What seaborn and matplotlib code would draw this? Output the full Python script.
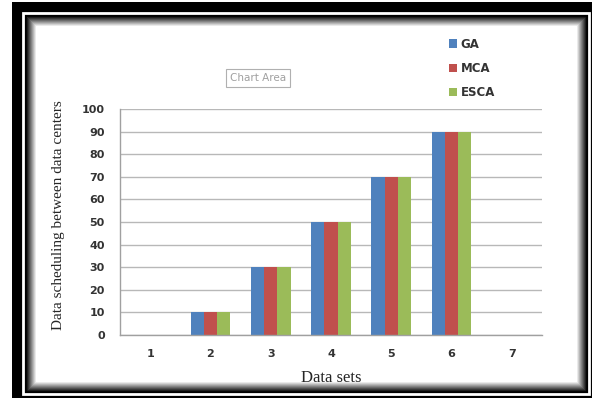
import pandas as pd
import matplotlib.pyplot as plt
import seaborn as sns
from matplotlib.patches import Rectangle

# data
datasets = ['1', '2', '3', '4', '5', '6', '7']
ga = [0, 10, 30, 50, 70, 90, 0]
mca = [0, 10, 30, 50, 70, 90, 0]
esca = [0, 10, 30, 50, 70, 90, 0]
methods = ['GA', 'MCA', 'ESCA']
colors = ['#4F81BD', '#C0504D', '#9BBB59']

df = pd.DataFrame({
    'Data sets': datasets * 3,
    'Method': [m for m in methods for _ in datasets],
    'Value': ga + mca + esca,
})

sns.set_style('white')
W, H = 602, 407
fig = plt.figure(figsize=(W / 100, H / 100), dpi=100)

def px(x0, y0, x1, y1):
    # pixel box (top-left origin) -> figure fraction rect
    return (x0 / W, 1 - y1 / H, (x1 - x0) / W, (y1 - y0) / H)

def frame(box, **kw):
    x, y, w, h = px(*box)
    fig.patches.append(Rectangle((x, y), w, h, transform=fig.transFigure, **kw))

# picture frame: black border, white line, shadowed inner panel
frame((12, 2, 592, 398), facecolor='black', edgecolor='none', zorder=0)
frame((23, 13, 589, 394), facecolor='none', edgecolor='white', lw=2, zorder=1)
frame((27, 17, 585, 390), facecolor='white', edgecolor='none', zorder=1)
# soft inner shadow
for i in range(11):
    g = min(1.0, 0.1 + i * 0.1)
    frame((27 + i, 17 + i, 585 - i, 390 - i), facecolor='none',
          edgecolor=(g, g, g), lw=1.0, zorder=1.1)

ax = fig.add_axes(px(120, 109, 542, 335))
ax.set_zorder(3)
ax.patch.set_alpha(0)

sns.barplot(data=df, x='Data sets', y='Value', hue='Method', palette=colors,
            saturation=1, width=0.66, gap=0, linewidth=0, ax=ax, legend=True)

ax.set_ylim(0, 100)
ax.set_yticks(range(0, 101, 10))
ax.set_xlim(-0.5, len(datasets) - 0.5)
ax.yaxis.grid(True, color='#b8b8b8', lw=1)
ax.set_axisbelow(True)
for s in ['top', 'right']:
    ax.spines[s].set_visible(False)
for s in ['left', 'bottom']:
    ax.spines[s].set_color('#a0a0a0')
    ax.spines[s].set_linewidth(1)
ax.tick_params(axis='y', length=5, color='#a0a0a0', direction='out', pad=6,
               labelsize=8, labelcolor='#333333')
ax.tick_params(axis='x', length=0, pad=10, labelsize=8, labelcolor='#333333')
for lab in ax.get_yticklabels() + ax.get_xticklabels():
    lab.set_fontweight('bold')

ax.set_xlabel('Data sets', family='Liberation Serif', fontsize=12, labelpad=8)
ax.set_ylabel('Data scheduling between data centers', family='Liberation Serif',
              fontsize=11)
ax.yaxis.set_label_coords(-0.13, 0.531)

leg = ax.legend(loc='upper left', bbox_to_anchor=(438 / W, 1 - 27 / H),
                bbox_transform=fig.transFigure, frameon=False,
                handlelength=0.7, handleheight=0.7, handletextpad=0.3,
                labelspacing=0.95, fontsize=8.5)
for t in leg.get_texts():
    t.set_fontweight('bold')
    t.set_color('#333333')

fig.text(258 / W, 1 - 78 / H, 'Chart Area', fontsize=7.5, color='#a0a0a0',
         ha='center', va='center', zorder=5,
         bbox=dict(boxstyle='square,pad=0.35', facecolor='white',
                   edgecolor='#b0b0b0', lw=0.8))

fig.savefig('out.png', dpi=100)
